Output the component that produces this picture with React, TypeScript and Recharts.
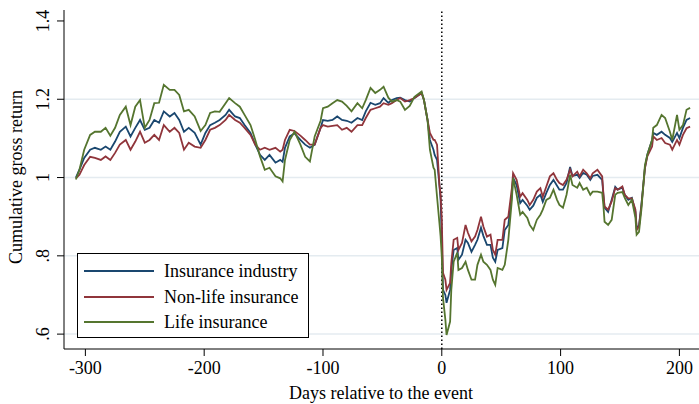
import React from 'react';
import { LineChart, Line, XAxis, YAxis, ReferenceLine } from 'recharts';

// days relative to the event (sampled) and cumulative gross returns
const days = [
  -308, -305, -301, -296, -292, -287, -283, -279, -275, -271,
  -266, -262, -258, -254, -250, -246, -242, -238, -234, -229,
  -225, -221, -217, -213, -208, -203, -199, -195, -191, -187,
  -182, -179, -174, -170, -166, -161, -157, -153, -149, -145,
  -140, -136, -134, -132, -128, -124, -119, -115, -111, -107,
  -102, -100, -96, -92, -88, -84, -80, -76, -71, -67,
  -64, -60, -56, -52, -49, -45, -42, -38, -35, -31,
  -27, -23, -17, -15, -12, -10, -7, -6, -4, -2,
  -1, 0, 1, 3, 4, 7, 8, 10, 13, 14,
  17, 20, 22, 25, 28, 30, 33, 35, 38, 41,
  43, 45, 47, 51, 53, 56, 59, 60, 63, 66,
  68, 72, 74, 77, 80, 83, 85, 88, 91, 94,
  97, 99, 102, 105, 108, 110, 114, 116, 119, 122,
  125, 127, 131, 135, 136, 137, 140, 143, 146, 148,
  152, 154, 157, 160, 163, 164, 166, 168, 171, 173,
  177, 178, 181, 185, 188, 192, 194, 198, 200, 203,
  206, 209,
];

const industry = [
  1.000, 1.020, 1.050, 1.071, 1.076, 1.071, 1.079, 1.071, 1.092, 1.117,
  1.130, 1.105, 1.127, 1.147, 1.122, 1.127, 1.147, 1.140, 1.169, 1.156,
  1.165, 1.147, 1.117, 1.127, 1.114, 1.084, 1.114, 1.134, 1.140, 1.147,
  1.160, 1.173, 1.156, 1.152, 1.134, 1.114, 1.084, 1.058, 1.045, 1.058,
  1.038, 1.045, 1.040, 1.076, 1.105, 1.113, 1.096, 1.084, 1.076, 1.084,
  1.127, 1.147, 1.145, 1.147, 1.156, 1.147, 1.145, 1.140, 1.152, 1.147,
  1.169, 1.191, 1.186, 1.190, 1.203, 1.191, 1.198, 1.203, 1.204, 1.198,
  1.194, 1.203, 1.216, 1.198, 1.147, 1.096, 1.071, 1.058, 1.045, 0.981,
  0.943, 0.841, 0.713, 0.700, 0.680, 0.713, 0.764, 0.815, 0.820, 0.790,
  0.803, 0.841, 0.833, 0.810, 0.828, 0.841, 0.872, 0.851, 0.828, 0.828,
  0.795, 0.785, 0.815, 0.820, 0.866, 0.879, 0.956, 0.999, 0.981, 0.935,
  0.943, 0.928, 0.918, 0.928, 0.948, 0.956, 0.938, 0.961, 0.981, 0.994,
  0.979, 0.969, 0.969, 0.986, 1.027, 1.004, 1.007, 0.999, 1.012, 1.007,
  0.994, 1.004, 1.007, 0.994, 0.956, 0.923, 0.912, 0.943, 0.976, 0.969,
  0.974, 0.956, 0.943, 0.948, 0.912, 0.872, 0.877, 0.930, 1.025, 1.058,
  1.096, 1.114, 1.109, 1.117, 1.109, 1.101, 1.091, 1.114, 1.101, 1.127,
  1.147, 1.152,
];

const nonLife = [
  0.998, 1.007, 1.032, 1.053, 1.050, 1.045, 1.054, 1.045, 1.063, 1.084,
  1.096, 1.071, 1.092, 1.117, 1.089, 1.096, 1.109, 1.096, 1.134, 1.117,
  1.127, 1.114, 1.071, 1.089, 1.079, 1.076, 1.096, 1.122, 1.127, 1.134,
  1.147, 1.160, 1.147, 1.140, 1.127, 1.109, 1.084, 1.071, 1.076, 1.071,
  1.076, 1.066, 1.071, 1.096, 1.122, 1.119, 1.107, 1.096, 1.084, 1.084,
  1.127, 1.134, 1.130, 1.132, 1.134, 1.122, 1.127, 1.117, 1.134, 1.134,
  1.152, 1.173, 1.177, 1.181, 1.190, 1.186, 1.190, 1.198, 1.203, 1.194,
  1.198, 1.203, 1.216, 1.198, 1.147, 1.114, 1.096, 1.096, 1.084, 0.981,
  0.956, 0.892, 0.757, 0.739, 0.713, 0.731, 0.782, 0.841, 0.846, 0.815,
  0.833, 0.879, 0.859, 0.837, 0.849, 0.866, 0.900, 0.875, 0.849, 0.854,
  0.815, 0.803, 0.841, 0.841, 0.892, 0.900, 0.973, 1.011, 0.994, 0.951,
  0.960, 0.943, 0.930, 0.943, 0.964, 0.973, 0.951, 0.977, 1.003, 1.011,
  0.994, 0.986, 0.981, 0.994, 1.020, 1.003, 1.015, 1.003, 1.020, 1.011,
  0.998, 1.011, 1.020, 1.003, 0.960, 0.926, 0.918, 0.939, 0.973, 0.969,
  0.977, 0.956, 0.947, 0.947, 0.918, 0.866, 0.875, 0.926, 1.024, 1.054,
  1.079, 1.105, 1.096, 1.101, 1.088, 1.084, 1.071, 1.096, 1.084, 1.109,
  1.126, 1.130,
];

const life = [
  0.995, 1.020, 1.071, 1.109, 1.117, 1.117, 1.127, 1.107, 1.127, 1.160,
  1.181, 1.134, 1.181, 1.198, 1.127, 1.147, 1.190, 1.191, 1.237, 1.224,
  1.224, 1.211, 1.169, 1.173, 1.156, 1.119, 1.134, 1.165, 1.169, 1.168,
  1.190, 1.203, 1.190, 1.181, 1.160, 1.134, 1.096, 1.054, 1.020, 1.025,
  1.003, 0.998, 0.990, 1.045, 1.096, 1.117, 1.084, 1.053, 1.041, 1.105,
  1.145, 1.177, 1.181, 1.190, 1.198, 1.194, 1.183, 1.169, 1.190, 1.177,
  1.198, 1.229, 1.216, 1.224, 1.232, 1.204, 1.194, 1.198, 1.194, 1.173,
  1.183, 1.206, 1.220, 1.198, 1.147, 1.071, 1.025, 1.020, 0.951, 0.884,
  0.849, 0.798, 0.693, 0.637, 0.598, 0.632, 0.713, 0.785, 0.808, 0.764,
  0.769, 0.785, 0.764, 0.739, 0.739, 0.777, 0.803, 0.785, 0.777, 0.764,
  0.739, 0.726, 0.769, 0.764, 0.777, 0.841, 0.943, 0.999, 0.956, 0.905,
  0.912, 0.897, 0.879, 0.866, 0.892, 0.905, 0.918, 0.943, 0.948, 0.969,
  0.943, 0.930, 0.923, 0.956, 1.007, 0.981, 0.974, 0.986, 0.969, 0.974,
  0.956, 0.964, 0.964, 0.961, 0.930, 0.887, 0.879, 0.892, 0.956, 0.961,
  0.963, 0.948, 0.930, 0.943, 0.897, 0.854, 0.861, 0.918, 1.032, 1.058,
  1.096, 1.127, 1.134, 1.160, 1.152, 1.117, 1.096, 1.160, 1.122, 1.134,
  1.173, 1.178,
];

const xTicks = [-300, -200, -100, 0, 100, 200];
const yTicks = [0.6, 0.8, 1, 1.2, 1.4];
const gridValues = [0.6, 0.8, 1, 1.2];

const SERIES = [
  { key: 'industry', name: 'Insurance industry', color: '#1a476f' },
  { key: 'nonLife', name: 'Non-life insurance', color: '#90353b' },
  { key: 'life', name: 'Life insurance', color: '#55752f' },
];

const data = days.map((d, i) => ({
  day: d,
  industry: industry[i],
  nonLife: nonLife[i],
  life: life[i],
}));

const FONT = '"Liberation Serif", "Times New Roman", serif';

const fmtY = (v: number) => {
  const s = String(v);
  return s.startsWith('0.') ? s.slice(1) : s;
};

const XTick = ({ x, payload }: any) => (
  <text x={x} y={368} textAnchor="middle" dy="0.33em" fontSize={18} fontFamily={FONT} fill="#000">
    {payload.value}
  </text>
);

const YTick = ({ y, payload }: any) => (
  <text
    x={43}
    y={y}
    transform={`rotate(-90, 43, ${y})`}
    textAnchor="middle"
    dy="0.33em"
    fontSize={18}
    fontFamily={FONT}
    fill="#000"
  >
    {fmtY(payload.value)}
  </text>
);

export default function App() {
  return (
    <div style={{ position: 'absolute', left: 0, top: 0, width: 699, height: 404, background: '#fff' }}>
      <LineChart width={699} height={404} data={data} margin={{ top: 10, right: 0, bottom: 0, left: 0 }}>
        {gridValues.map(v => (
          <ReferenceLine key={v} y={v} stroke="#e4ebf0" strokeWidth={1.5} />
        ))}
        <XAxis
          dataKey="day"
          type="number"
          domain={[-318, 216.5]}
          ticks={xTicks}
          allowDataOverflow
          height={55}
          tickSize={7}
          tick={<XTick />}
          axisLine={{ stroke: '#000' }}
          tickLine={{ stroke: '#000' }}
          label={() => (
            <text x={381} y={393} textAnchor="middle" dy="0.33em" fontSize={18} fontFamily={FONT} fill="#000">
              Days relative to the event
            </text>
          )}
        />
        <YAxis
          type="number"
          domain={[0.562, 1.428]}
          ticks={yTicks}
          interval={0}
          allowDataOverflow
          width={64}
          tickSize={7}
          tick={<YTick />}
          axisLine={{ stroke: '#000' }}
          tickLine={{ stroke: '#000' }}
          label={() => (
            <text
              x={16}
              y={177}
              transform="rotate(-90, 16, 177)"
              textAnchor="middle"
              dy="0.33em"
              fontSize={18}
              fontFamily={FONT}
              fill="#000"
            >
              Cumulative gross return
            </text>
          )}
        />
        <ReferenceLine x={0} stroke="#000" strokeDasharray="1.5 2.5" strokeWidth={1.5} />
        {SERIES.map(s => (
          <Line
            key={s.key}
            type="linear"
            dataKey={s.key}
            name={s.name}
            stroke={s.color}
            strokeWidth={1.8}
            dot={false}
            isAnimationActive={false}
          />
        ))}
      </LineChart>
      <div
        style={{
          position: 'absolute',
          left: 77,
          top: 253,
          width: 230,
          height: 83,
          border: '1px solid #000',
          background: '#fff',
          fontFamily: FONT,
          fontSize: 18,
          color: '#000',
        }}
      >
        {SERIES.map((s, i) => (
          <div
            key={s.key}
            style={{ position: 'absolute', left: 6, top: 6 + i * 25.5, height: 22, display: 'flex', alignItems: 'center' }}
          >
            <div style={{ width: 70, height: 2, background: s.color }} />
            <span style={{ marginLeft: 10, lineHeight: '22px' }}>{s.name}</span>
          </div>
        ))}
      </div>
    </div>
  );
}
